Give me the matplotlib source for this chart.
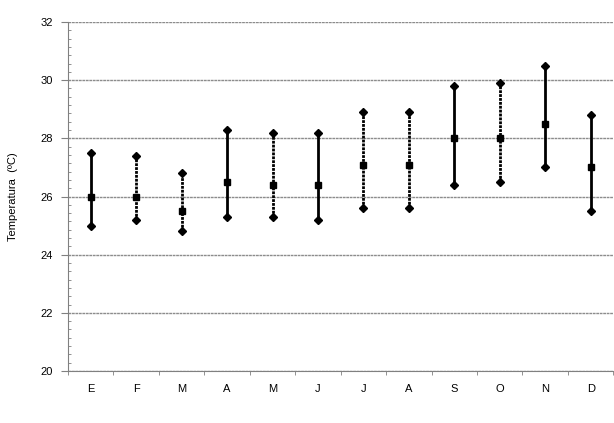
import numpy as np
import matplotlib.pyplot as plt
from matplotlib.ticker import MultipleLocator, AutoMinorLocator

# Datos mensuales de temperatura (ºC)
meses = ["E", "F", "M", "A", "M", "J", "J", "A", "S", "O", "N", "D"]
t_max = [27.5, 27.4, 26.8, 28.3, 28.2, 28.2, 28.9, 28.9, 29.8, 29.9, 30.5, 28.8]
t_med = [26.0, 26.0, 25.5, 26.5, 26.4, 26.4, 27.1, 27.1, 28.0, 28.0, 28.5, 27.0]
t_min = [25.0, 25.2, 24.8, 25.3, 25.3, 25.2, 25.6, 25.6, 26.4, 26.5, 27.0, 25.5]
punteada = [False, True, True, False, True, False, True, True, False, True, False, False]

plt.rcParams["font.family"] = ["Liberation Sans", "DejaVu Sans"]

fig = plt.figure(figsize=(6.14, 4.23), dpi=100)
ax = fig.add_axes([68 / 614, 1 - 371 / 423, 1 - 68 / 614 - 0.001, (371 - 22) / 423])

x = np.arange(len(meses))
for i in x:
    ls = (0, (1, 0.4)) if punteada[i] else "-"
    ax.plot([i, i], [t_min[i], t_max[i]], color="black", lw=2, ls=ls, zorder=3)
ax.plot(x, t_max, "D", color="black", ms=4, zorder=4)
ax.plot(x, t_min, "D", color="black", ms=4, zorder=4)
ax.plot(x, t_med, "s", color="black", ms=4.8, zorder=4)

ax.set_xlim(-0.5, len(meses) - 0.5)
ax.set_ylim(20, 32)
ax.yaxis.set_major_locator(MultipleLocator(2))
ax.yaxis.set_minor_locator(AutoMinorLocator(7))
ax.set_xticks(x)
ax.set_xticklabels(meses, fontsize=8)
ax.set_xticks(np.arange(-0.5, len(meses)), minor=True)
ax.tick_params(axis="x", which="major", length=0, pad=9)
ax.tick_params(axis="x", which="minor", length=3, color="gray", direction="out")
ax.tick_params(axis="y", which="major", length=5, color="gray", labelsize=8, pad=6)
ax.tick_params(axis="y", which="minor", length=2, color="gray", direction="in")

ax.grid(axis="y", which="major", color="#8c8c8c", lw=1, ls=(0, (2, 0.5)))
ax.set_axisbelow(True)
for s in ["top", "right"]:
    ax.spines[s].set_visible(False)
for s in ["left", "bottom"]:
    ax.spines[s].set_color("gray")

ax.set_ylabel("Temperatura  (ºC)", fontsize=8, labelpad=16)

fig.savefig("out.png", dpi=100)
